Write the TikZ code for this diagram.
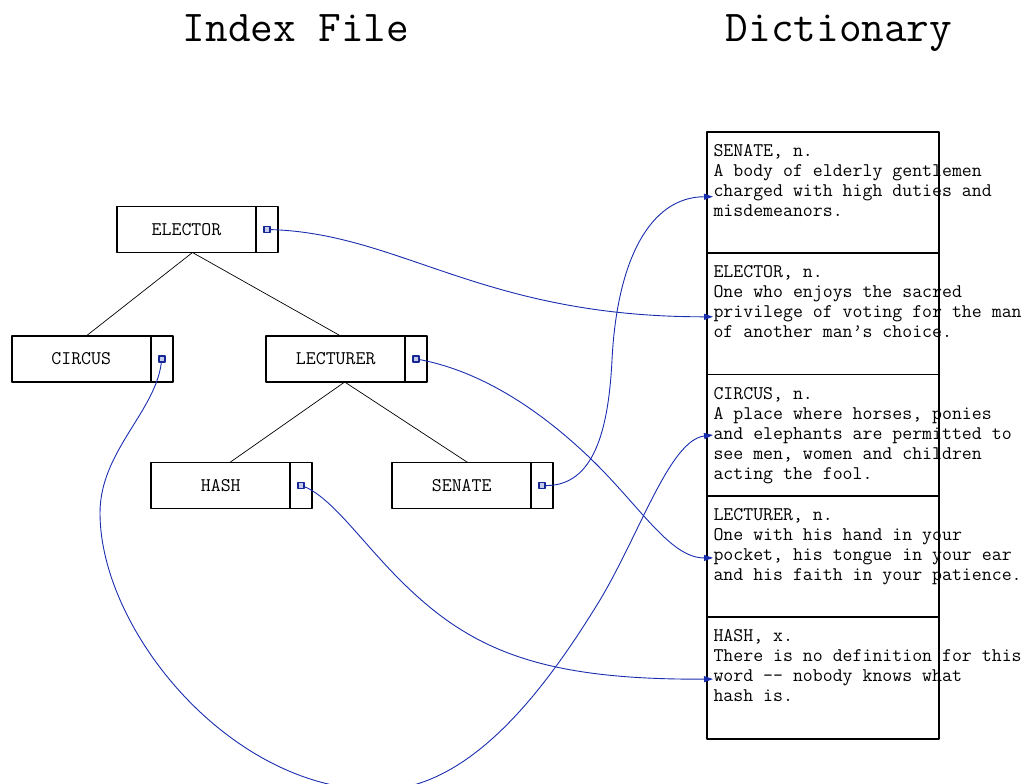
\documentclass[tikz,border=0pt]{standalone}
\usepackage{fontspec}
\usetikzlibrary{positioning,arrows.meta}
\definecolor{linkblue}{RGB}{25,45,175}
\tikzset{
	keybox/.style={draw,line width=1.9pt,outer sep=0pt,inner sep=0pt,minimum width=139pt,minimum height=46pt},
	ptrbox/.style={draw,line width=1.9pt,outer sep=0pt,inner sep=0pt,minimum width=22pt,minimum height=46pt,anchor=west},
	ptrdot/.style={draw=linkblue!85!black,fill=linkblue!25,line width=1.8pt,inner sep=0pt,minimum size=6pt},
	entry/.style={draw,line width=1.9pt,outer sep=0pt,inner sep=0pt,minimum width=232pt,minimum height=121.4pt},
	deftext/.style={align=left,inner sep=0pt,anchor=north west},
	link/.style={linkblue,line width=0.9pt,->},
}
\begin{document}
\begin{tikzpicture}[x=1pt,y=-1pt,>={Triangle[length=9pt,width=6pt]},line join=round,font=\ttfamily\fontsize{19.3}{20}\selectfont]
		\useasboundingbox (0,0) rectangle (1026,784);
		\clip (0,0) rectangle (1026,784);
		\node[anchor=base,font=\ttfamily\fontsize{44}{46}\selectfont] (t-index) at (296,42) {Index File};
		\node[anchor=base,font=\ttfamily\fontsize{44}{46}\selectfont] (t-dict) at (839,42) {Dictionary};
		% index tree
		\node[keybox] (elector) at (186.5,229.5) {ELECTOR};
		\node[ptrbox] (elector-p) at (elector.east) {};
		\node[keybox] (circus) at (81.2,359) {CIRCUS};
		\node[ptrbox] (circus-p) at (circus.east) {};
		\node[keybox] (lecturer) at (335.7,359) {LECTURER};
		\node[ptrbox] (lecturer-p) at (lecturer.east) {};
		\node[keybox] (hash) at (220.8,485.5) {HASH};
		\node[ptrbox] (hash-p) at (hash.east) {};
		\node[keybox] (senate) at (461.7,485.5) {SENATE};
		\node[ptrbox] (senate-p) at (senate.east) {};
		\draw[line width=0.7pt] ([xshift=6pt]elector.south)--([xshift=5pt]circus.north);
		\draw[line width=0.7pt] ([xshift=6pt]elector.south)--([xshift=5pt]lecturer.north);
		\draw[line width=0.7pt] ([xshift=9pt]lecturer.south)--([xshift=9pt]hash.north);
		\draw[line width=0.7pt] ([xshift=9pt]lecturer.south)--([xshift=6pt]senate.north);
		% dictionary
		\node[entry,anchor=north west] (d-senate) at (707.3,131.7) {};
		\node[entry,below=0pt of d-senate] (d-elector) {};
		\node[entry,below=0pt of d-elector] (d-circus) {};
		\node[entry,below=0pt of d-circus] (d-lecturer) {};
		\node[entry,below=0pt of d-lecturer] (d-hash) {};
		\node[deftext] (txt-senate) at ([xshift=6pt,yshift=-10.3pt]d-senate.north west)
		{\strut SENATE, n.\\A body of elderly gentlemen\\charged with high duties and\\misdemeanors.};
		\node[deftext] (txt-elector) at ([xshift=6pt,yshift=-10.3pt]d-elector.north west)
		{\strut ELECTOR, n.\\One who enjoys the sacred\\privilege of voting for the man\\of another man’s choice.};
		\node[deftext] (txt-circus) at ([xshift=6pt,yshift=-10.3pt]d-circus.north west)
		{\strut CIRCUS, n.\\A place where horses, ponies\\and elephants are permitted to\\see men, women and children\\acting the fool.};
		\node[deftext] (txt-lecturer) at ([xshift=6pt,yshift=-10.3pt]d-lecturer.north west)
		{\strut LECTURER, n.\\One with his hand in your\\pocket, his tongue in your ear\\and his faith in your patience.};
		\node[deftext] (txt-hash) at ([xshift=6pt,yshift=-10.3pt]d-hash.north west)
		{\strut HASH, x.\\There is no definition for this\\word -\kern0pt- nobody knows what\\hash is.};
		\coordinate (d-senate-in) at ([xshift=5.7pt,yshift=-65pt]d-senate.north west);
		\coordinate (d-elector-in) at ([xshift=5.7pt,yshift=-63.7pt]d-elector.north west);
		\coordinate (d-circus-in) at ([xshift=5.7pt,yshift=-60.5pt]d-circus.north west);
		\coordinate (d-lecturer-in) at ([xshift=5.7pt,yshift=-62pt]d-lecturer.north west);
		\coordinate (d-hash-in) at ([xshift=5.7pt,yshift=-61.8pt]d-hash.north west);
		% pointers
		\draw[link] (elector-p.center) .. controls (400,232) and (480,317) .. (d-elector-in);
		\draw[link] (senate-p.center) .. controls (590,488) and (608,440) .. (612,360)
		.. controls (617,260) and (650,197) .. (d-senate-in);
		\draw[link] (lecturer-p.center) .. controls (480,370) and (540,410) .. (590,458)
		.. controls (640,506) and (670,558) .. (d-lecturer-in);
		\draw[link] (hash-p.center) .. controls (330,495) and (360,540) .. (400,580)
		.. controls (470,650) and (540,680) .. (d-hash-in);
		\draw[link] (circus-p.center) .. controls (158,410) and (100,450) .. (100,513)
		.. controls (100,630) and (230,790) .. (378,790)
		.. controls (470,790) and (545,690) .. (600,600)
		.. controls (640,533) and (670,440) .. (d-circus-in);
		\node[ptrdot] (elector-dot) at (elector-p.center) {};
		\node[ptrdot] (circus-dot) at (circus-p.center) {};
		\node[ptrdot] (lecturer-dot) at (lecturer-p.center) {};
		\node[ptrdot] (hash-dot) at (hash-p.center) {};
		\node[ptrdot] (senate-dot) at (senate-p.center) {};
\end{tikzpicture}
\end{document}
